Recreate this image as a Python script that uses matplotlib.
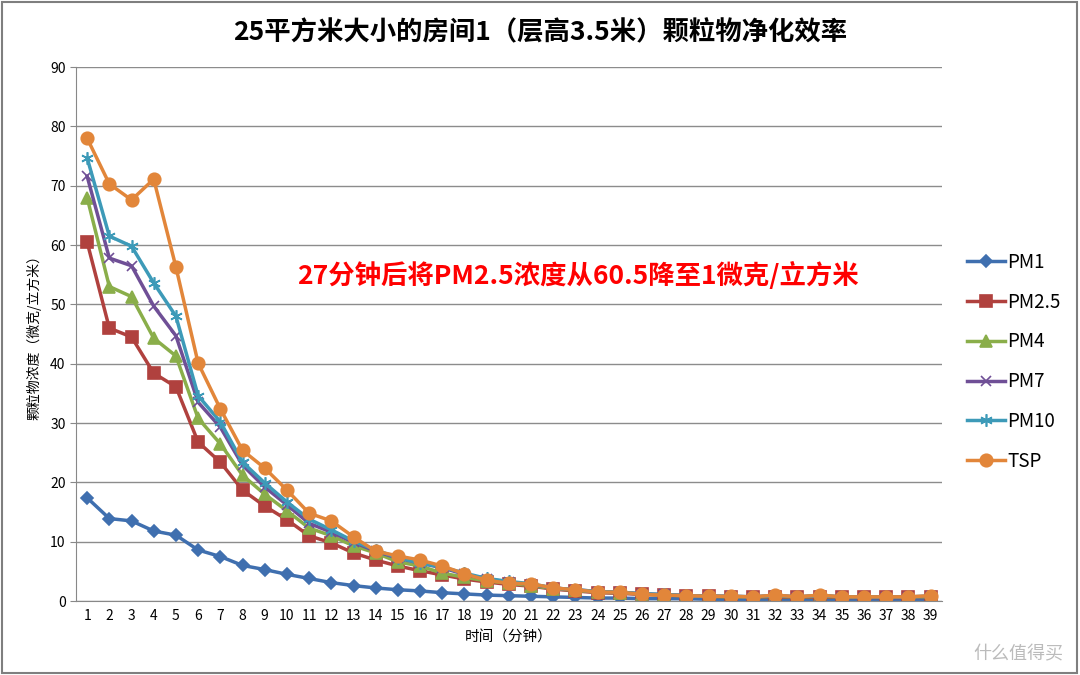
import numpy as np
import matplotlib.pyplot as plt
from matplotlib.patches import Rectangle

plt.rcParams['font.family'] = ['Noto Sans CJK SC', 'DejaVu Sans']

minutes = list(range(1, 40))

pm1 = [17.4, 13.9, 13.5, 11.8, 11.1, 8.6, 7.5, 6.0, 5.3, 4.5,
       3.8, 3.1, 2.6, 2.2, 1.9, 1.7, 1.4, 1.2, 1.0, 0.9,
       0.8, 0.7, 0.6, 0.5, 0.5, 0.4, 0.4, 0.4, 0.3, 0.3,
       0.3, 0.3, 0.3, 0.3, 0.3, 0.3, 0.3, 0.3, 0.3]
pm25 = [60.5, 46.0, 44.5, 38.4, 36.1, 26.8, 23.4, 18.7, 16.0, 13.7,
        11.0, 9.8, 8.1, 6.9, 5.9, 5.1, 4.4, 3.7, 3.2, 2.8,
        2.5, 2.0, 1.7, 1.4, 1.3, 1.1, 1.0, 0.9, 0.8, 0.7,
        0.7, 0.7, 0.6, 0.7, 0.6, 0.6, 0.6, 0.6, 0.6]
pm4 = [68.0, 53.0, 51.3, 44.3, 41.3, 30.8, 26.5, 21.2, 18.0, 15.2,
       12.3, 11.0, 9.3, 8.1, 6.6, 5.9, 4.7, 4.0, 3.4, 3.0,
       2.6, 2.1, 1.8, 1.5, 1.4, 1.2, 1.0, 0.9, 0.8, 0.7,
       0.7, 0.8, 0.7, 0.8, 0.7, 0.7, 0.7, 0.7, 0.7]
pm7 = [71.6, 57.8, 56.5, 49.7, 44.7, 33.5, 29.3, 22.9, 19.2, 16.2,
       13.1, 11.6, 9.9, 8.4, 7.2, 6.4, 5.6, 4.5, 3.7, 3.2,
       2.8, 2.2, 1.9, 1.6, 1.5, 1.2, 1.1, 0.9, 0.8, 0.8,
       0.7, 0.9, 0.7, 0.9, 0.7, 0.7, 0.7, 0.7, 0.8]
pm10 = [74.7, 61.5, 59.8, 53.6, 48.0, 34.6, 30.2, 23.4, 19.9, 16.7,
        13.8, 12.0, 10.1, 8.6, 7.3, 6.4, 5.7, 4.7, 3.8, 3.3,
        2.9, 2.2, 1.9, 1.6, 1.5, 1.2, 1.1, 0.9, 0.8, 0.8,
        0.7, 0.9, 0.7, 0.9, 0.7, 0.7, 0.7, 0.7, 0.8]
tsp = [78.0, 70.3, 67.6, 71.1, 56.3, 40.1, 32.4, 25.4, 22.4, 18.7,
       14.8, 13.5, 10.8, 8.4, 7.6, 6.9, 5.9, 4.6, 3.5, 3.0,
       2.9, 2.2, 1.9, 1.5, 1.5, 1.1, 1.0, 0.9, 0.8, 0.8,
       0.7, 1.0, 0.7, 1.0, 0.7, 0.7, 0.7, 0.7, 0.9]

names = ['PM1', 'PM2.5', 'PM4', 'PM7', 'PM10', 'TSP']
colors = ['#3F6FAF', '#B0413E', '#8AAE4A', '#6F4F96', '#3D9AB8', '#E2863A']
markers = ['D', 's', '^', 'x', (6, 2, 0), 'o']
msizes = [6, 8, 8, 7, 9, 9]

fig = plt.figure(figsize=(10.8, 6.75), dpi=100)
ax = fig.add_axes([0.0704, 0.1096, 0.8016, 0.7911])

for vals, name, c, m, ms in zip([pm1, pm25, pm4, pm7, pm10, tsp], names, colors, markers, msizes):
    ax.plot(minutes, vals, color=c, lw=2.5, marker=m, markersize=ms,
            markeredgecolor=c, markeredgewidth=1.2, label=name)

ax.set_xlim(0.5, 39.5)
ax.set_ylim(0, 90)
ax.set_yticks(range(0, 91, 10))
ax.set_xticks(minutes)
ax.tick_params(axis='both', labelsize=10, length=4, color='#888888')
ax.tick_params(axis='x', length=0, pad=6)
ax.grid(axis='y', color='#8c8c8c', lw=1)
ax.set_axisbelow(True)
for s in ['top', 'right']:
    ax.spines[s].set_visible(False)
ax.spines['left'].set_color('#888888')
ax.spines['bottom'].set_color('#888888')

ax.set_xlabel('时间（分钟）', fontsize=10.5, labelpad=5)
ax.set_ylabel('颗粒物浓度（微克/立方米）', fontsize=10, labelpad=6)

fig.text(0.5, 0.952, '25平方米大小的房间1（层高3.5米）颗粒物净化效率',
         ha='center', va='center', fontsize=19, fontweight='bold')

ax.text(0.58, 0.609, '27分钟后将PM2.5浓度从60.5降至1微克/立方米',
        transform=ax.transAxes, ha='center', va='center',
        fontsize=19, fontweight='bold', color='#FF0000')

fig.legend(loc='center left', bbox_to_anchor=(0.88, 0.464), frameon=False,
           fontsize=13.5, handlelength=2.0, labelspacing=1.0, handletextpad=0.15)

fig.text(0.985, 0.03, '什么值得买', ha='right', va='center', fontsize=13, color='#bbbbbb')

fig.patches.append(Rectangle((0.002, 0.003), 0.995, 0.994, transform=fig.transFigure,
                             fill=False, edgecolor='#7f7f7f', lw=1.5))

fig.savefig('out.png', dpi=100)
